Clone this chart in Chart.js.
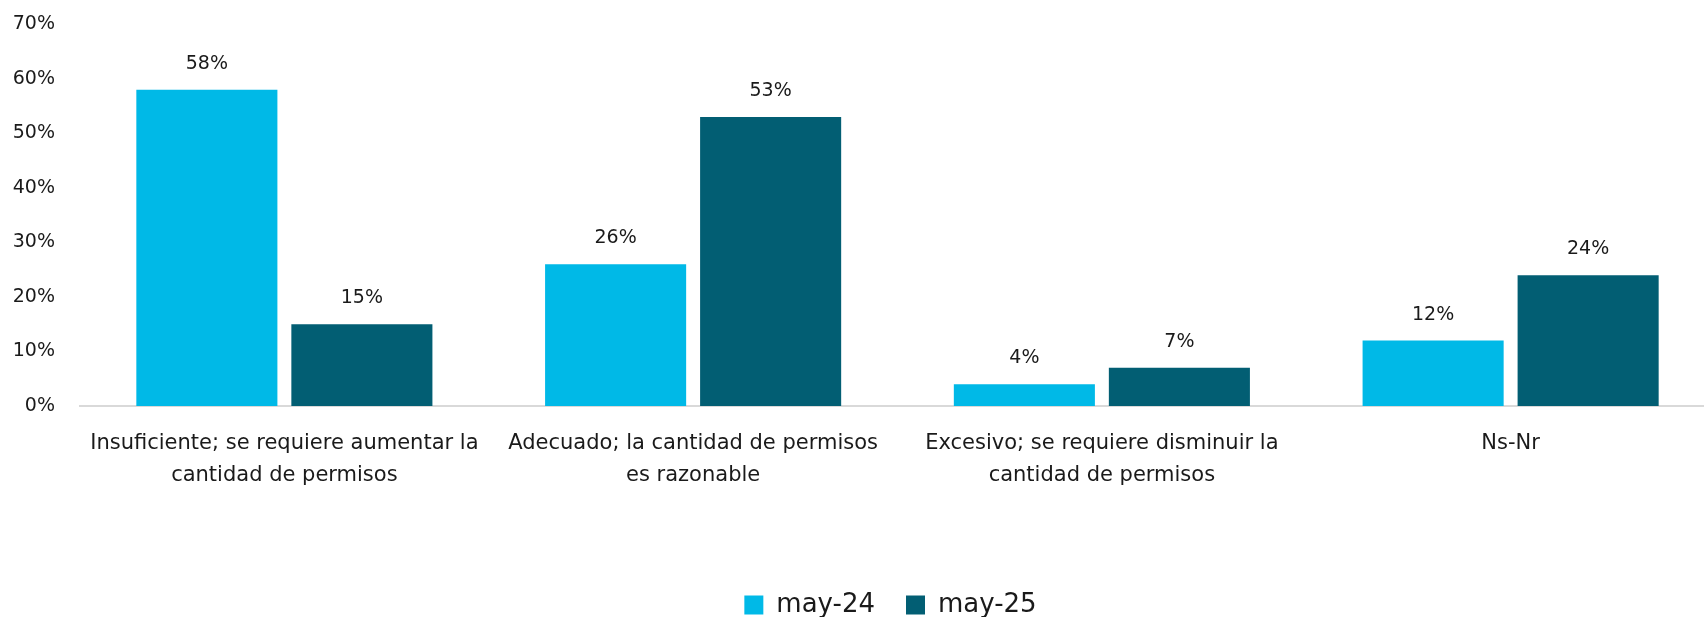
<!DOCTYPE html>
<html>
<head>
<meta charset="utf-8">
<script src="https://cdn.jsdelivr.net/npm/chart.js@4/dist/chart.umd.min.js"></script>
<style>
  html, body { margin: 0; padding: 0; background: #ffffff; overflow: hidden; width: 1704px; height: 617px; }
  #wrap { position: absolute; left: 0; top: -12px; width: 1715px; height: 640px; }
</style>
</head>
<body>
<div id="wrap"><canvas id="chart"></canvas></div>
<script>
// Survey answers (percent of respondents)
const categories = [
  ["Insuficiente; se requiere aumentar la", "cantidad de permisos"],
  ["Adecuado; la cantidad de permisos", "es razonable"],
  ["Excesivo; se requiere disminuir la", "cantidad de permisos"],
  "Ns-Nr"
];
const seriesNames = ["may-24", "may-25"];
const may24 = [58, 26, 4, 12];
const may25 = [15, 53, 7, 24];
const yTickValues = [0, 10, 20, 30, 40, 50, 60, 70];

const FONT = '"DejaVu Sans", "Noto Sans", sans-serif';
const TEXT = '#1a1a1a';

Chart.defaults.font.family = FONT;
Chart.defaults.color = TEXT;

// Percent labels drawn above each bar
const barValueLabels = {
  id: 'barValueLabels',
  afterDatasetsDraw(chart) {
    const ctx = chart.ctx;
    ctx.save();
    ctx.font = '400 19px ' + FONT;
    ctx.fillStyle = TEXT;
    ctx.textAlign = 'center';
    ctx.textBaseline = 'middle';
    chart.data.datasets.forEach((ds, i) => {
      chart.getDatasetMeta(i).data.forEach((bar, j) => {
        ctx.fillText(ds.data[j] + '%', bar.x, bar.y - 26);
      });
    });
    ctx.restore();
  }
};

// Nudge the legend slightly left of the plot-area centre
const legendNudge = {
  id: 'legendNudge',
  afterLayout(chart) {
    if (chart.legend) {
      chart.legend.left -= 7;
      chart.legend.right -= 7;
    }
  }
};

new Chart(document.getElementById('chart'), {
  type: 'bar',
  data: {
    labels: categories,
    datasets: [
      { label: seriesNames[0], data: may24, backgroundColor: '#00B9E7' },
      { label: seriesNames[1], data: may25, backgroundColor: '#025E73' }
    ]
  },
  options: {
    responsive: true,
    maintainAspectRatio: false,
    animation: false,
    categoryPercentage: 0.7585,
    barPercentage: 0.91,
    layout: { padding: { top: 0, left: 0, right: 0, bottom: 0 } },
    plugins: {
      tooltip: { enabled: false },
      legend: {
        position: 'bottom',
        fullSize: false,
        labels: {
          font: { size: 26 },
          color: TEXT,
          boxWidth: 19,
          boxHeight: 19,
          padding: 31
        }
      }
    },
    scales: {
      x: {
        grid: { display: false },
        border: { color: '#d9d9d9', width: 2 },
        ticks: {
          font: { size: 21, lineHeight: 1.52 },
          color: TEXT,
          padding: 14,
          maxRotation: 0,
          autoSkip: false
        },
        afterFit(scale) { scale.height = 155; }
      },
      y: {
        min: 0,
        max: 70,
        grid: { display: false, drawTicks: false },
        border: { display: false },
        afterBuildTicks(scale) { scale.ticks = yTickValues.map(v => ({ value: v })); },
        ticks: {
          font: { size: 19 },
          color: TEXT,
          padding: 25,
          callback: v => v + '%'
        },
        afterFit(scale) { scale.width = 80; }
      }
    }
  },
  plugins: [barValueLabels, legendNudge]
});
</script>
</body>
</html>
